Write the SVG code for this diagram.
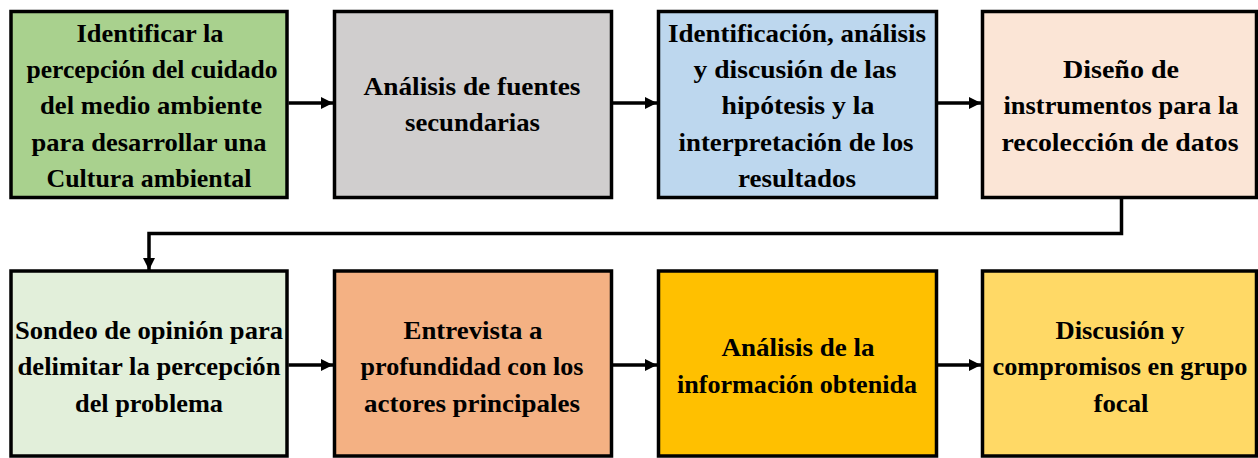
<svg xmlns="http://www.w3.org/2000/svg" width="1258" height="458" viewBox="0 0 1258 458">
<style>
.box{stroke:#000;stroke-width:3.5}
.t{font-family:"Liberation Serif","Times New Roman",serif;font-weight:bold;font-size:26px;fill:#000;text-anchor:middle}
.c{fill:none;stroke:#000;stroke-width:3.5;marker-end:url(#ah)}
</style>
<defs>
<marker id="ah" markerUnits="userSpaceOnUse" markerWidth="14" markerHeight="14" refX="12" refY="7" orient="auto">
<path d="M0,1 L12,7 L0,13 Z" fill="#000"/>
</marker>
</defs>
<rect width="1258" height="458" fill="#fff"/>
<g id="connectors">
<path class="c" d="M288.5,103 H333"/>
<path class="c" d="M612.5,103 H657"/>
<path class="c" d="M936.5,103 H981"/>
<path class="c" d="M1121.5,199 V233.5 H149 V270"/>
<path class="c" d="M288.5,365 H333"/>
<path class="c" d="M612.5,365 H657"/>
<path class="c" d="M936.5,365 H981"/>
</g>
<g id="n1">
<rect class="box" x="11" y="11.5" width="276" height="186" fill="#A9D18E"/>
<text class="t" x="150" y="42" textLength="147" lengthAdjust="spacingAndGlyphs">Identificar la</text>
<text class="t" x="152" y="78" textLength="251" lengthAdjust="spacingAndGlyphs">percepción del cuidado</text>
<text class="t" x="151" y="114" textLength="222" lengthAdjust="spacingAndGlyphs">del medio ambiente</text>
<text class="t" x="149" y="151" textLength="235" lengthAdjust="spacingAndGlyphs">para desarrollar una</text>
<text class="t" x="149" y="187" textLength="205" lengthAdjust="spacingAndGlyphs">Cultura ambiental</text>
</g>
<g id="n2">
<rect class="box" x="334.5" y="11.5" width="277" height="186" fill="#D0CECE"/>
<text class="t" x="472" y="95" textLength="217" lengthAdjust="spacingAndGlyphs">Análisis de fuentes</text>
<text class="t" x="472.5" y="131" textLength="135" lengthAdjust="spacingAndGlyphs">secundarias</text>
</g>
<g id="n3">
<rect class="box" x="658.5" y="11.5" width="278" height="186" fill="#BDD7EE"/>
<text class="t" x="797" y="42" textLength="258" lengthAdjust="spacingAndGlyphs">Identificación, análisis</text>
<text class="t" x="795" y="78" textLength="203" lengthAdjust="spacingAndGlyphs">y discusión de las</text>
<text class="t" x="798" y="114" textLength="153" lengthAdjust="spacingAndGlyphs">hipótesis y la</text>
<text class="t" x="796" y="151" textLength="235" lengthAdjust="spacingAndGlyphs">interpretación de los</text>
<text class="t" x="797" y="187" textLength="118" lengthAdjust="spacingAndGlyphs">resultados</text>
</g>
<g id="n4">
<rect class="box" x="982.5" y="11.5" width="274" height="186" fill="#FBE5D6"/>
<text class="t" x="1121" y="78" textLength="116" lengthAdjust="spacingAndGlyphs">Diseño de</text>
<text class="t" x="1121" y="114" textLength="235" lengthAdjust="spacingAndGlyphs">instrumentos para la</text>
<text class="t" x="1120" y="151" textLength="237" lengthAdjust="spacingAndGlyphs">recolección de datos</text>
</g>
<g id="n5">
<rect class="box" x="11" y="271" width="276" height="185" fill="#E2EFDA"/>
<text class="t" x="149" y="339" textLength="268" lengthAdjust="spacingAndGlyphs">Sondeo de opinión para</text>
<text class="t" x="149" y="375" textLength="263" lengthAdjust="spacingAndGlyphs">delimitar la percepción</text>
<text class="t" x="149" y="412" textLength="148" lengthAdjust="spacingAndGlyphs">del problema</text>
</g>
<g id="n6">
<rect class="box" x="334.5" y="271" width="277" height="185" fill="#F4B183"/>
<text class="t" x="473" y="339" textLength="139" lengthAdjust="spacingAndGlyphs">Entrevista a</text>
<text class="t" x="472" y="375" textLength="223" lengthAdjust="spacingAndGlyphs">profundidad con los</text>
<text class="t" x="472" y="412" textLength="216" lengthAdjust="spacingAndGlyphs">actores principales</text>
</g>
<g id="n7">
<rect class="box" x="658.5" y="271" width="278" height="185" fill="#FFC000"/>
<text class="t" x="798" y="356" textLength="153" lengthAdjust="spacingAndGlyphs">Análisis de la</text>
<text class="t" x="797" y="393" textLength="240" lengthAdjust="spacingAndGlyphs">información obtenida</text>
</g>
<g id="n8">
<rect class="box" x="982.5" y="271" width="274" height="185" fill="#FFD966"/>
<text class="t" x="1120" y="339" textLength="129" lengthAdjust="spacingAndGlyphs">Discusión y</text>
<text class="t" x="1120" y="375" textLength="255" lengthAdjust="spacingAndGlyphs">compromisos en grupo</text>
<text class="t" x="1121" y="412" textLength="55" lengthAdjust="spacingAndGlyphs">focal</text>
</g>
</svg>
